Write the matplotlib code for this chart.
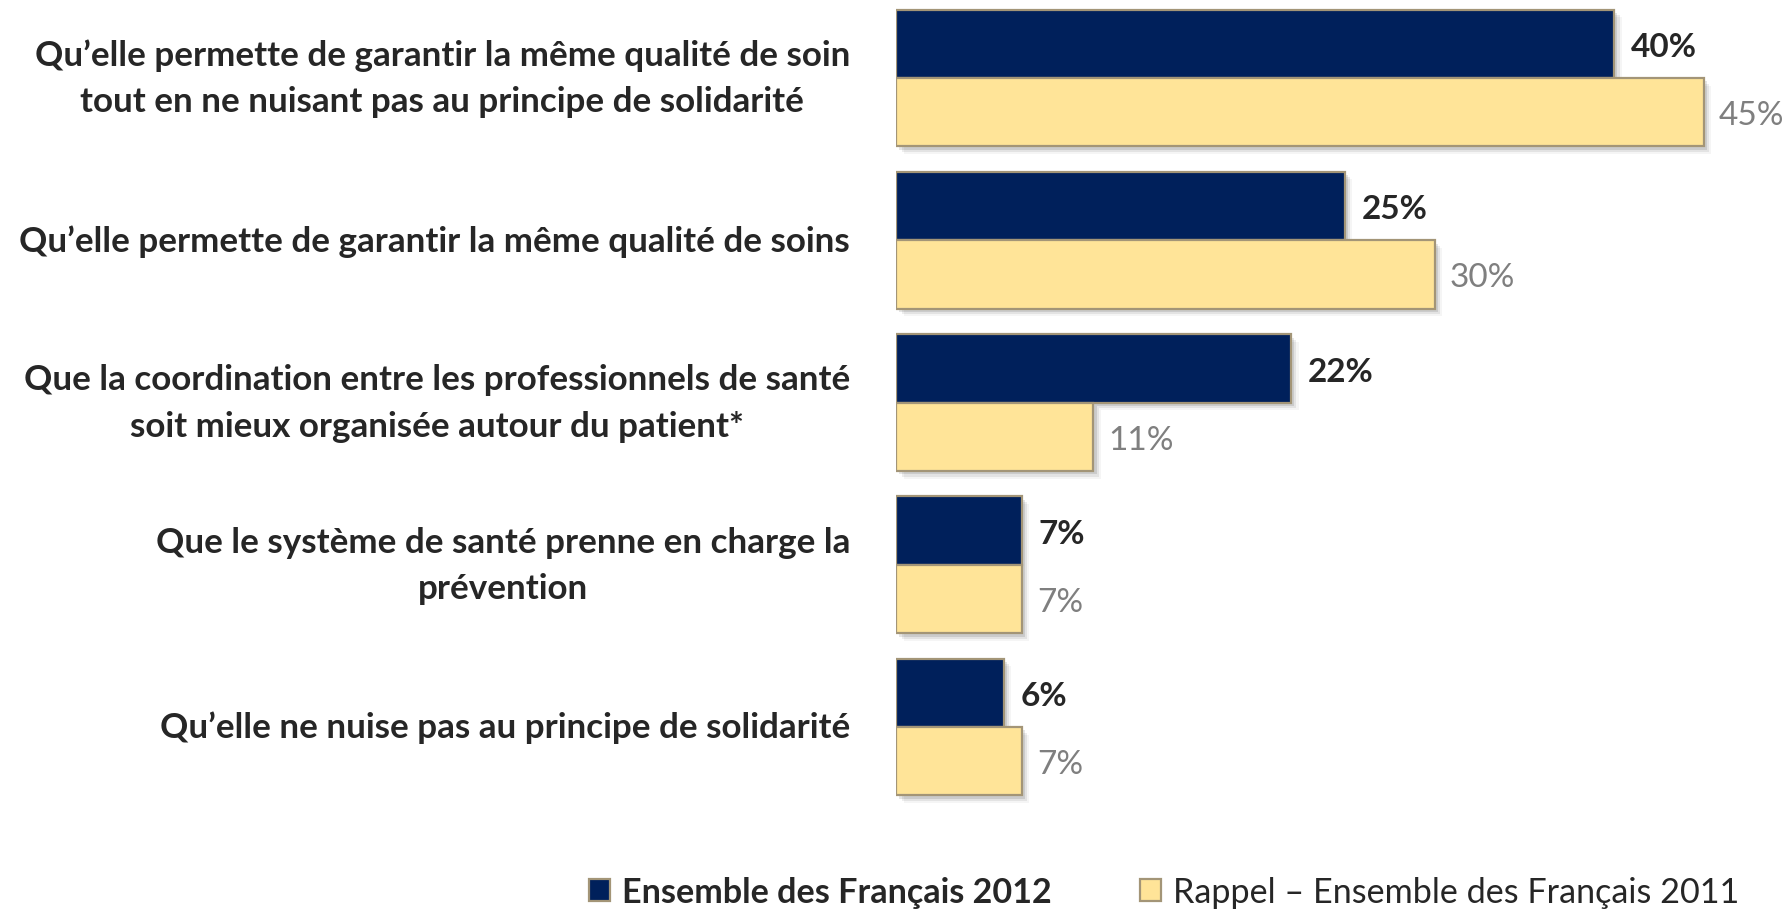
import matplotlib
matplotlib.use("Agg")
import matplotlib.pyplot as plt
from matplotlib.patches import Patch
import matplotlib.patheffects as pe
import numpy as np

categories = [
    "Qu\u2019elle permette de garantir la même qualité de soin\ntout en ne nuisant pas au principe de solidarité",
    "Qu\u2019elle permette de garantir la même qualité de soins",
    "Que la coordination entre les professionnels de santé\nsoit mieux organisée autour du patient*",
    "Que le système de santé prenne en charge la\nprévention",
    "Qu\u2019elle ne nuise pas au principe de solidarité",
]
values_2012 = [40, 25, 22, 7, 6]
values_2011 = [45, 30, 11, 7, 7]
series_names = ["Ensemble des Français 2012", "Rappel \u2013 Ensemble des Français 2011"]

NAVY = "#00205B"
GOLD = "#FFE498"
EDGE = "#A39577"
TEXT_DARK = "#262626"
TEXT_GREY = "#7F7F7F"
FONT = ["Lato", "DejaVu Sans"]

W, H = 1789, 912
fig = plt.figure(figsize=(W / 100, H / 100), dpi=100)
fig.patch.set_facecolor("white")

x0 = 896 / W
ax = fig.add_axes([x0, 0, 1 - x0, 1])
ax.set_axis_off()

bar_h = 0.422
y = np.arange(len(categories))
ax.set_xlim(0, (W - 896) / 17.95)
ax.set_ylim((H - 79) / 162.25, -79 / 162.25)

shadow = [
    pe.SimplePatchShadow(offset=(2.5, -2.5), shadow_rgbFace="#000000", alpha=0.10),
    pe.SimplePatchShadow(offset=(4, -4), shadow_rgbFace="#000000", alpha=0.07),
    pe.SimplePatchShadow(offset=(5.5, -5.5), shadow_rgbFace="#000000", alpha=0.04),
    pe.Normal(),
]

b1 = ax.barh(y - bar_h / 2, values_2012, height=bar_h, color=NAVY,
             edgecolor=EDGE, linewidth=1.6)
b2 = ax.barh(y + bar_h / 2, values_2011, height=bar_h, color=GOLD,
             edgecolor=EDGE, linewidth=1.6)
for p in list(b1) + list(b2):
    p.set_path_effects(shadow)

for yi, v in zip(y, values_2012):
    ax.annotate(f"{v}%", (v, yi - bar_h / 2), xytext=(12, -2), textcoords="offset points",
                ha="left", va="center", fontsize=24, fontweight="bold",
                color=TEXT_DARK, family=FONT)
for yi, v in zip(y, values_2011):
    ax.annotate(f"{v}%", (v, yi + bar_h / 2), xytext=(11, -2), textcoords="offset points",
                ha="left", va="center", fontsize=24, color=TEXT_GREY, family=FONT)

label_x = 850 / W
for yi, cat in zip(y, categories):
    ty = ax.transData.transform((0, yi))[1] / H
    fig.text(label_x, ty, cat, ha="right", va="center", multialignment="center",
             fontsize=25.2, fontweight="bold", color=TEXT_DARK, family=FONT,
             linespacing=1.55)

handles = [Patch(facecolor=NAVY, edgecolor=EDGE, linewidth=1.6),
           Patch(facecolor=GOLD, edgecolor=EDGE, linewidth=1.6)]
leg = fig.legend(handles, series_names, loc="center", bbox_to_anchor=(1164 / W, 1 - 893 / H),
                 ncol=2, frameon=False, handlelength=0.6, handleheight=0.6,
                 handletextpad=0.35, columnspacing=2.6,
                 prop={"family": FONT, "size": 24.6})
for t in leg.get_texts():
    t.set_color(TEXT_DARK)
leg.get_texts()[0].set_fontweight("bold")

fig.savefig("out.png", dpi=100, facecolor="white")
